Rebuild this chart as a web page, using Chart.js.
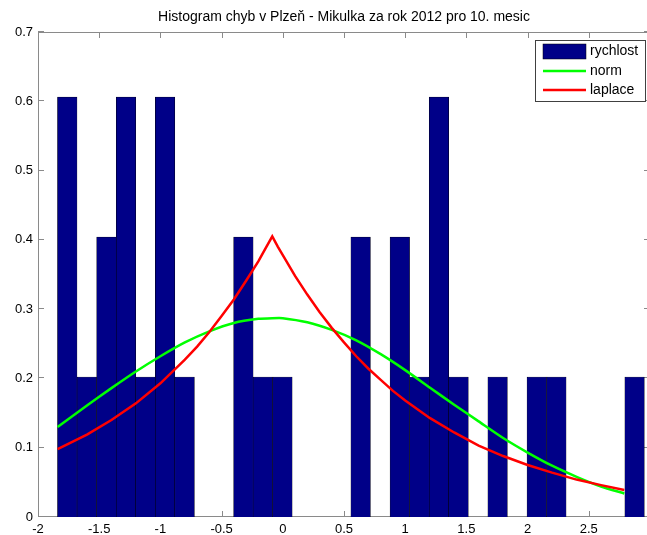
<!DOCTYPE html>
<html>
<head>
<meta charset="utf-8">
<title>Histogram chyb v Plzeň</title>
<script src="https://cdn.jsdelivr.net/npm/chart.js@4.4.1/dist/chart.umd.min.js"></script>
<style>
    html, body { margin: 0; padding: 0; overflow: hidden; background: #fff; }
    #wrap { width: 660px; height: 535px; }
</style>
</head>
<body>
<div id="wrap"><canvas id="chart" width="660" height="535"></canvas></div>
<script>
// Histogram bins (centres) and normalised heights
const binCenters = [-1.761, -1.601, -1.441, -1.281, -1.121, -0.962, -0.802, -0.642, -0.482, -0.322,
                    -0.163, -0.003, 0.157, 0.317, 0.477, 0.636, 0.796, 0.956, 1.116, 1.276,
                    1.436, 1.595, 1.755, 1.915, 2.075, 2.235, 2.394, 2.554, 2.714, 2.874];
const rychlost = [0.606, 0.202, 0.404, 0.606, 0.202, 0.606, 0.202, 0, 0, 0.404,
                  0.202, 0.202, 0, 0, 0, 0.404, 0, 0.404, 0.202, 0.606,
                  0.202, 0, 0.202, 0, 0.202, 0.202, 0, 0, 0, 0.202];

// Fitted curves
const normX = [-1.84, -1.6, -1.4, -1.2, -1.0, -0.8, -0.6, -0.4, -0.2, -0.086, 0, 0.2, 0.4,
               0.6, 0.8, 1.0, 1.2, 1.4, 1.6, 1.8, 2.0, 2.2, 2.4, 2.6, 2.79];
const normY = [0.130, 0.161, 0.186, 0.210, 0.232, 0.252, 0.268, 0.280, 0.286, 0.287, 0.287, 0.281, 0.270,
               0.255, 0.235, 0.212, 0.187, 0.162, 0.138, 0.114, 0.093, 0.074, 0.058, 0.044, 0.034];

const laplaceX = [-1.84, -1.6, -1.4, -1.2, -1.0, -0.8, -0.7, -0.6, -0.5, -0.4, -0.3, -0.2, -0.14, -0.086,
                  -0.04, 0, 0.1, 0.2, 0.3, 0.4, 0.5, 0.6, 0.7, 0.8, 0.9, 1.0, 1.2, 1.4, 1.6, 1.8,
                  2.0, 2.2, 2.4, 2.6, 2.79];
const laplaceY = [0.098, 0.119, 0.140, 0.164, 0.193, 0.227, 0.246, 0.267, 0.290, 0.314, 0.341, 0.369, 0.388, 0.405,
                  0.390, 0.378, 0.348, 0.321, 0.296, 0.273, 0.252, 0.232, 0.214, 0.198, 0.182, 0.168, 0.143, 0.122, 0.103, 0.088,
                  0.075, 0.064, 0.054, 0.046, 0.039];

const seriesLabels = ['rychlost', 'norm', 'laplace'];
const titleText = 'Histogram chyb v Plzeň - Mikulka za rok 2012 pro 10. mesic';

const FONT = "'Liberation Sans', Arial, Helvetica, sans-serif";
const AXIS_GRAY = '#8a8a8a';

// box round the plot with inward ticks on all four sides (drawn under the bars)
const matlabAxes = {
    id: 'matlabAxes',
    beforeDatasetsDraw(chart) {
        const { ctx, chartArea: a, scales: { x, y } } = chart;
        ctx.save();
        ctx.strokeStyle = AXIS_GRAY;
        ctx.lineWidth = 1;
        ctx.beginPath();
        ctx.moveTo(a.left + 0.5, a.top + 0.5);
        ctx.lineTo(a.right + 0.5, a.top + 0.5);
        ctx.lineTo(a.right + 0.5, a.bottom - 0.5);
        ctx.lineTo(a.left + 0.5, a.bottom - 0.5);
        ctx.closePath();
        x.ticks.forEach(t => {
            const px = Math.round(x.getPixelForValue(t.value)) + 0.5;
            ctx.moveTo(px, a.bottom);
            ctx.lineTo(px, a.bottom - 6);
            ctx.moveTo(px, a.top);
            ctx.lineTo(px, a.top + 6);
        });
        y.ticks.forEach(t => {
            const py = Math.round(y.getPixelForValue(t.value)) - 0.5;
            ctx.moveTo(a.left, py);
            ctx.lineTo(a.left + 6, py);
            ctx.moveTo(a.right, py);
            ctx.lineTo(a.right - 6, py);
        });
        ctx.stroke();

        // title, centred over the axes like MATLAB does
        ctx.fillStyle = '#000';
        ctx.font = '14px ' + FONT;
        ctx.textAlign = 'center';
        ctx.textBaseline = 'middle';
        ctx.fillText(titleText, (a.left + a.right) / 2, 17);
        ctx.restore();
    }
};

// legend box in the top right corner
const boxLegend = {
    id: 'boxLegend',
    afterDraw(chart) {
        const ctx = chart.ctx;
        const rows = [51, 71, 90];
        ctx.save();
        ctx.fillStyle = '#fff';
        ctx.fillRect(535.5, 40.5, 110, 61);
        ctx.strokeStyle = '#404040';
        ctx.lineWidth = 1;
        ctx.strokeRect(535.5, 40.5, 110, 61);

        seriesLabels.forEach((lab, i) => {
            const d = chart.data.datasets.find(s => s.label === lab);
            const yy = rows[i];
            if (d.type === 'line') {
                ctx.strokeStyle = d.borderColor;
                ctx.lineWidth = 2.5;
                ctx.beginPath();
                ctx.moveTo(543, yy);
                ctx.lineTo(586, yy);
                ctx.stroke();
            } else {
                ctx.fillStyle = d.backgroundColor;
                ctx.fillRect(543, yy - 7, 43, 15);
                ctx.strokeStyle = '#000';
                ctx.lineWidth = 0.5;
                ctx.strokeRect(543, yy - 7, 43, 15);
            }
            ctx.fillStyle = '#000';
            ctx.font = '14px ' + FONT;
            ctx.textBaseline = 'middle';
            ctx.textAlign = 'left';
            ctx.fillText(lab, 590, yy);
        });
        ctx.restore();
    }
};

const ctx = document.getElementById('chart').getContext('2d');
new Chart(ctx, {
    type: 'bar',
    data: {
        datasets: [
            {
                type: 'bar',
                label: seriesLabels[0],
                data: binCenters.map((v, i) => ({ x: v, y: rychlost[i] })),
                backgroundColor: '#000088',
                borderColor: '#000000',
                borderWidth: 0.5,
                barPercentage: 1,
                categoryPercentage: 1,
                order: 3,
            },
            {
                type: 'line',
                label: seriesLabels[1],
                data: normX.map((v, i) => ({ x: v, y: normY[i] })),
                borderColor: '#00ff00',
                borderWidth: 2.5,
                pointRadius: 0,
                tension: 0.2,
                order: 2,
            },
            {
                type: 'line',
                label: seriesLabels[2],
                data: laplaceX.map((v, i) => ({ x: v, y: laplaceY[i] })),
                borderColor: '#ff0000',
                borderWidth: 2.5,
                pointRadius: 0,
                tension: 0,
                order: 1,
            },
        ],
    },
    options: {
        responsive: false,
        animation: false,
        events: [],
        layout: { padding: { left: 0, right: 10, top: 32, bottom: 0 } },
        scales: {
            x: {
                type: 'linear',
                min: -2,
                max: 3,
                offset: false,
                grid: { display: false, drawTicks: false },
                border: { display: false },
                ticks: {
                    stepSize: 0.5,
                    autoSkip: false,
                    maxRotation: 0,
                    padding: 5,
                    color: '#000',
                    font: { family: FONT, size: 13 },
                    callback: (value) => String(Number(value.toFixed(1))),
                },
                afterFit(scale) { scale.height = 18; },
            },
            y: {
                min: 0,
                max: 0.7,
                grid: { display: false, drawTicks: false },
                border: { display: false },
                ticks: {
                    stepSize: 0.1,
                    padding: 5,
                    color: '#000',
                    font: { family: FONT, size: 13 },
                    callback: (value) => String(Number(value.toFixed(1))),
                },
                afterFit(scale) { scale.width = 38; },
            },
        },
        plugins: {
            legend: { display: false },
            tooltip: { enabled: false },
            title: { display: false },
        },
    },
    plugins: [matlabAxes, boxLegend],
});
</script>
</body>
</html>
